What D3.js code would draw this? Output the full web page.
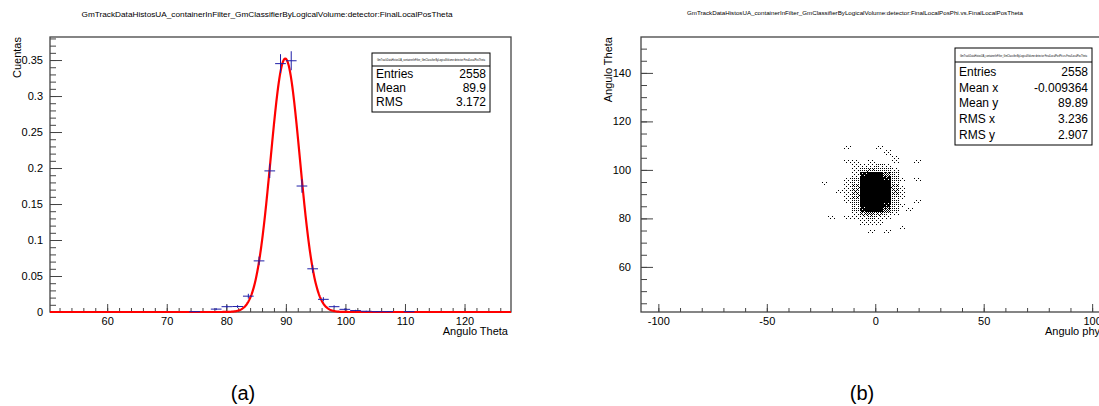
<!DOCTYPE html>
<html>
<head>
<meta charset="utf-8">
<script src="https://cdn.jsdelivr.net/npm/d3@7"></script>
<style>
  body { margin: 0; background: #fff; }
  svg { display: block; }
  text { font-family: "Liberation Sans", Arial, sans-serif; fill: #000; }
</style>
</head>
<body>
<div id="chart"></div>
<script>
// ---- panel (a): FinalLocalPosTheta histogram ----
const thetaBinWidth = 1.8;
const thetaCenters = [74.7, 78.3, 80.1, 81.9, 83.7, 85.5, 87.3, 89.1, 90.9, 92.7, 94.5, 96.3, 98.1, 99.9, 101.7, 103.5, 105.3, 107.1, 110.7];
const thetaValues  = [0.0005, 0.004, 0.0074, 0.0076, 0.022, 0.071, 0.196, 0.345, 0.349, 0.175, 0.060, 0.0176, 0.0074, 0.0037, 0.002, 0.001, 0.0005, 0.0005, 0.0005];
const unitWeight = 0.0005; // value of one entry

const fitConst = 0.352, fitMean = 89.9, fitSigma = 2.45;

const xTicksA = [60, 70, 80, 90, 100, 110, 120];
const yTicksA = [0, 0.05, 0.1, 0.15, 0.2, 0.25, 0.3, 0.35];
const statsLabelsA = ["Entries", "Mean", "RMS"];
const statsValuesA = ["2558", "89.9", "3.172"];

// ---- panel (b): FinalLocalPosPhi vs FinalLocalPosTheta ----
const phiStart = -25.2, phiBinWidth = 3.6;
const thetaTop = 109.8;
// fill level 0..9 per cell, rows go down in theta, columns go up in phi
const cellLevels = [
  [0,0,0,1,0,0,0,1,0,0,0,0,0,0],
  [0,0,0,0,0,0,0,0,1,0,0,0,0,0],
  [0,0,0,0,0,0,0,0,0,1,0,0,0,0],
  [0,0,0,1,1,0,1,0,0,1,0,0,1,0],
  [0,0,0,0,1,1,1,2,1,0,0,0,0,0],
  [0,0,0,0,1,2,3,2,2,1,0,0,0,0],
  [0,0,0,0,1,8,9,9,5,2,0,0,0,0],
  [0,0,0,1,2,9,9,9,8,2,1,0,1,0],
  [1,0,0,1,2,9,9,9,9,2,0,0,0,0],
  [0,0,0,1,3,9,9,9,9,3,1,0,0,0],
  [0,0,1,1,3,9,9,9,9,3,1,0,0,0],
  [0,0,0,1,3,9,9,9,9,2,1,0,0,0],
  [0,0,0,1,2,9,9,9,9,2,0,0,1,0],
  [0,0,0,0,2,9,9,9,8,2,1,0,0,0],
  [0,0,0,0,2,8,9,9,5,2,0,1,0,0],
  [0,0,0,0,1,3,4,3,2,1,0,0,0,0],
  [0,1,0,1,1,1,2,1,1,0,0,0,0,0],
  [0,0,0,0,0,1,1,1,0,0,0,0,0,0],
  [0,0,0,0,0,0,0,0,0,0,1,0,0,0],
  [0,0,0,0,0,0,1,0,1,0,0,0,0,0]
];
const xTicksB = [-100, -50, 0, 50, 100];
const yTicksB = [60, 80, 100, 120, 140];
const statsLabelsB = ["Entries", "Mean x", "Mean y", "RMS x", "RMS y"];
const statsValuesB = ["2558", "-0.009364", "89.89", "3.236", "2.907"];

const titleA = "GmTrackDataHistosUA_containerInFilter_GmClassifierByLogicalVolume:detector:FinalLocalPosTheta";
const titleB = "GmTrackDataHistosUA_containerInFilter_GmClassifierByLogicalVolume:detector:FinalLocalPosPhi.vs.FinalLocalPosTheta";

const W = 1099, H = 406;
const svg = d3.select("#chart").append("svg")
  .attr("width", W).attr("height", H)
  .attr("viewBox", `0 0 ${W} ${H}`);

const frameColor = "#444";

function drawAxes(g, x, y, xt, yt, xMinorStep, yMinorStep, yFmt, yPad) {
  const [x0, x1] = x.range();
  const [yb, yt0] = y.range();
  const xd = x.domain(), yd = y.domain();
  const xMinor = d3.range(Math.ceil(xd[0] / xMinorStep) * xMinorStep, xd[1], xMinorStep);
  const yMinor = d3.range(Math.ceil(yd[0] / yMinorStep - 1e-9) * yMinorStep, yd[1], yMinorStep);

  g.append("g").attr("transform", `translate(0,${yb})`)
    .call(d3.axisBottom(x).tickValues(xMinor).tickSize(-4).tickFormat(""))
    .call(a => a.select(".domain").remove());
  g.append("g").attr("transform", `translate(0,${yb})`)
    .call(d3.axisBottom(x).tickValues(xt).tickSize(-8).tickPadding(5).tickFormat(d => String(d)))
    .call(a => a.select(".domain").remove());
  g.append("g").attr("transform", `translate(${x0},0)`)
    .call(d3.axisLeft(y).tickValues(yMinor).tickSize(-6).tickFormat(""))
    .call(a => a.select(".domain").remove());
  g.append("g").attr("transform", `translate(${x0},0)`)
    .call(d3.axisLeft(y).tickValues(yt).tickSize(-12).tickPadding(yPad).tickFormat(yFmt))
    .call(a => a.select(".domain").remove());

  g.selectAll(".tick line").attr("stroke", frameColor);
  g.selectAll(".tick text").attr("font-size", 11).attr("font-family", "Liberation Sans, Arial, sans-serif");

  g.append("rect")
    .attr("x", x0).attr("y", yt0)
    .attr("width", x1 - x0).attr("height", yb - yt0)
    .attr("fill", "none").attr("stroke", frameColor).attr("stroke-width", 1.3);
}

function drawStats(g, x0, y0, w, rowH, topH, labels, values, boxTitle) {
  const h = topH + rowH * labels.length + 4;
  g.append("rect").attr("x", x0).attr("y", y0).attr("width", w).attr("height", h)
    .attr("fill", "#fff").attr("stroke", "#000").attr("stroke-width", 1);
  g.append("line").attr("x1", x0).attr("x2", x0 + w).attr("y1", y0 + topH).attr("y2", y0 + topH)
    .attr("stroke", "#000").attr("stroke-width", 1);
  g.append("text").attr("x", x0 + 5).attr("y", y0 + topH / 2 + 1.5)
    .attr("font-size", 3).attr("textLength", w - 10).attr("lengthAdjust", "spacingAndGlyphs")
    .attr("fill", "#555").text(boxTitle);
  labels.forEach((l, i) => {
    const by = y0 + topH + rowH * (i + 1) - 2;
    g.append("text").attr("x", x0 + 4).attr("y", by).attr("font-size", 12).text(l);
    g.append("text").attr("x", x0 + w - 4).attr("y", by).attr("font-size", 12)
      .attr("text-anchor", "end").text(values[i]);
  });
}

// ---------- panel (a) ----------
const gA = svg.append("g");
const xA = d3.scaleLinear().domain([50.4, 127.8]).range([50, 511]);
const yA = d3.scaleLinear().domain([0, 0.382]).range([312, 37]);

gA.append("text").attr("x", 267).attr("y", 17).attr("text-anchor", "middle")
  .attr("font-size", 7.5).attr("textLength", 371).attr("lengthAdjust", "spacingAndGlyphs").text(titleA);

drawAxes(gA, xA, yA, xTicksA, yTicksA, 2, 0.01, d => d3.format("~g")(d), 7);

// gaussian fit
const fitX = d3.range(xA.domain()[0], xA.domain()[1] + 0.01, 0.1);
const fitLine = d3.line()
  .x(d => xA(d))
  .y(d => yA(fitConst * Math.exp(-0.5 * ((d - fitMean) / fitSigma) ** 2)));
gA.append("path").datum(fitX).attr("d", fitLine)
  .attr("fill", "none").attr("stroke", "#ff0000").attr("stroke-width", 2.2);

// error crosses
const histBlue = "#1f1fa8";
const bins = thetaCenters.map((c, i) => {
  const v = thetaValues[i];
  const err = Math.sqrt(v / unitWeight) * unitWeight;
  return { c, v, err };
});
const cross = gA.append("g").attr("stroke", histBlue).attr("stroke-width", 1);
cross.selectAll("line.h").data(bins).join("line").attr("class", "h")
  .attr("x1", d => xA(d.c - thetaBinWidth / 2)).attr("x2", d => xA(d.c + thetaBinWidth / 2))
  .attr("y1", d => yA(d.v)).attr("y2", d => yA(d.v));
cross.selectAll("line.v").data(bins).join("line").attr("class", "v")
  .attr("x1", d => xA(d.c)).attr("x2", d => xA(d.c))
  .attr("y1", d => yA(Math.max(0, d.v - d.err))).attr("y2", d => yA(d.v + d.err));

gA.append("text").attr("x", 508).attr("y", 335).attr("text-anchor", "end")
  .attr("font-size", 11).text("Angulo Theta");
gA.append("text").attr("transform", "translate(21,37) rotate(-90)").attr("text-anchor", "end")
  .attr("font-size", 11).text("Cuentas");

drawStats(gA, 372, 53, 118, 14, 13, statsLabelsA, statsValuesA, titleA);

// ---------- panel (b) ----------
const gB = svg.append("g");
const xB = d3.scaleLinear().domain([-108, 108]).range([641, 1109.5]);
const yB = d3.scaleLinear().domain([41.4, 154.8]).range([312, 37]);

gB.append("text").attr("x", 855).attr("y", 15).attr("text-anchor", "middle")
  .attr("font-size", 6).attr("textLength", 336).attr("lengthAdjust", "spacingAndGlyphs").text(titleB);

// scatter cells, ordered-dither of the fill level
const bayer = [
  [0, 32, 8, 40, 2, 34, 10, 42], [48, 16, 56, 24, 50, 18, 58, 26],
  [12, 44, 4, 36, 14, 46, 6, 38], [60, 28, 52, 20, 62, 30, 54, 22],
  [3, 35, 11, 43, 1, 33, 9, 41], [51, 19, 59, 27, 49, 17, 57, 25],
  [15, 47, 7, 39, 13, 45, 5, 37], [63, 31, 55, 23, 61, 29, 53, 21]
];
const cells = [];
cellLevels.forEach((row, r) => row.forEach((lv, c) => {
  if (lv > 0) cells.push({
    phi0: phiStart + c * phiBinWidth, phi1: phiStart + (c + 1) * phiBinWidth,
    th1: thetaTop - r * thetaBinWidth, th0: thetaTop - (r + 1) * thetaBinWidth, lv
  });
}));
const dots = [];
cells.forEach(d => {
  const px0 = xB(d.phi0), px1 = xB(d.phi1), py0 = yB(d.th1), py1 = yB(d.th0);
  for (let px = Math.round(px0); px < Math.round(px1); px++) {
    for (let py = Math.round(py0); py < Math.round(py1); py++) {
      if (d.lv >= 9 || bayer[py % 8][px % 8] < d.lv / 9 * 64) dots.push([px, py]);
    }
  }
});
gB.append("g").selectAll("rect").data(dots).join("rect")
  .attr("x", d => d[0]).attr("y", d => d[1]).attr("width", 1).attr("height", 1)
  .attr("fill", "#000").attr("shape-rendering", "crispEdges");

drawAxes(gB, xB, yB, xTicksB, yTicksB, 10, 5, d => String(d), 10);

gB.append("text").attr("x", 1100).attr("y", 335).attr("text-anchor", "end")
  .attr("font-size", 11).text("Angulo phy");
gB.append("text").attr("transform", "translate(612,37) rotate(-90)").attr("text-anchor", "end")
  .attr("font-size", 11).text("Angulo Theta");

drawStats(gB, 955, 48, 137, 15.8, 14, statsLabelsB, statsValuesB, titleB);

// sub captions
svg.append("text").attr("x", 243).attr("y", 400).attr("text-anchor", "middle")
  .attr("font-family", "Liberation Serif, serif").attr("font-size", 20).text("(a)");
svg.append("text").attr("x", 862).attr("y", 400).attr("text-anchor", "middle")
  .attr("font-family", "Liberation Serif, serif").attr("font-size", 20).text("(b)");
</script>
</body>
</html>
